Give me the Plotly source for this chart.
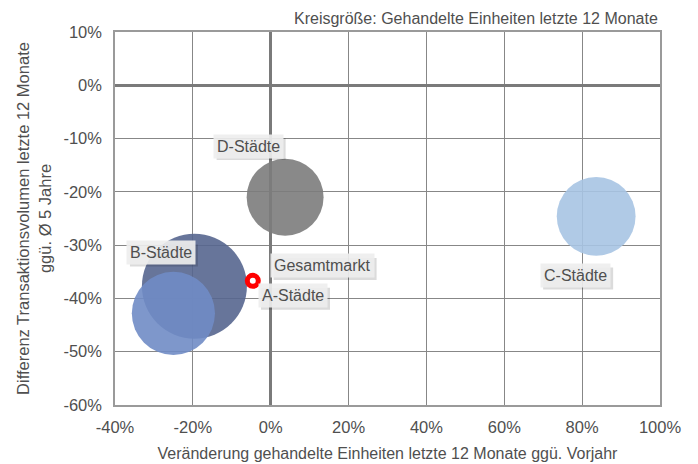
import plotly.graph_objects as go

# Data
segments = ["D-Städte", "C-Städte", "B-Städte", "A-Städte"]
change_units = [3.7, 83.6, -19.6, -25.0]          # % x
diff_volume = [-21.0, -24.6, -37.7, -42.8]        # % y
units_traded = [5.9, 6.2, 11.0, 6.9]              # bubble size (relative)
colors = ["#7c7c7c", "#a7c4e3", "#56668f", "#708cc5"]

total_name = "Gesamtmarkt"
total_x = [-4.6]
total_y = [-36.7]

label_text = ["D-Städte", "C-Städte", "B-Städte", "A-Städte", "Gesamtmarkt"]
label_x = [-5.8, 78.2, -28.2, 5.6, 13.2]
label_y = [-11.4, -35.7, -31.4, -39.5, -33.9]

x_ticks = [-40, -20, 0, 20, 40, 60, 80, 100]
y_ticks = [10, 0, -10, -20, -30, -40, -50, -60]

FONT = "Liberation Sans, Arial, sans-serif"
TXT = "#4f4f4f"

max_d = 105.0
sizeref = 2.0 * max(units_traded) / max_d ** 2

fig = go.Figure()
for name, x, y, s, c in zip(segments, change_units, diff_volume, units_traded, colors):
    fig.add_trace(go.Scatter(
        x=[x], y=[y], mode="markers", name=name,
        marker=dict(size=[s], sizemode="area", sizeref=sizeref, color=c,
                    opacity=0.9, line=dict(width=0)),
        showlegend=False,
    ))

fig.add_trace(go.Scatter(
    x=total_x, y=total_y, mode="markers", name=total_name,
    marker=dict(size=11, color="white", line=dict(color="#ff0000", width=5)),
    showlegend=False,
))

# label boxes with a soft drop shadow (shadow = pixel-sized rect anchored at the label)
box_w = [69, 70, 68, 69, 103]
box_h = 22
for t, x, y, w in zip(label_text, label_x, label_y, box_w):
    fig.add_shape(type="rect", xref="x", yref="y", xsizemode="pixel", ysizemode="pixel",
                  xanchor=x, yanchor=y,
                  x0=-w / 2 + 3, x1=w / 2 + 3, y0=-box_h / 2 - 3, y1=box_h / 2 - 3,
                  fillcolor="rgba(0,0,0,0.14)", line=dict(width=0), layer="above")
    fig.add_annotation(x=x, y=y, text=t, showarrow=False,
                       font=dict(family=FONT, size=16, color=TXT),
                       bgcolor="rgba(238,238,238,0.92)", borderpad=3)

fig.add_annotation(xref="paper", yref="paper", x=1, y=1, yshift=3,
                   xanchor="right", yanchor="bottom", showarrow=False,
                   text="Kreisgröße: Gehandelte Einheiten letzte 12 Monate",
                   font=dict(family=FONT, size=16, color=TXT))

# the page body adds an 8px offset; figure is sized to compensate
fig.update_layout(
    width=690, height=456,
    margin=dict(l=107, r=38, t=24, b=59, autoexpand=False),
    paper_bgcolor="white", plot_bgcolor="white",
    font=dict(family=FONT, size=16, color=TXT),
    xaxis=dict(
        range=[-40, 100], tickvals=x_ticks,
        ticktext=[f"{v}%" for v in x_ticks],
        tickfont=dict(size=16.5),
        showgrid=True, gridcolor="#878787", gridwidth=1,
        zeroline=True, zerolinecolor="#7a7a7a", zerolinewidth=2.5,
        showline=True, linecolor="#9a9a9a", linewidth=1.5, mirror=True,
        ticks="", ticklabelstandoff=6, automargin=False,
        title=dict(text="Veränderung gehandelte Einheiten letzte 12 Monate ggü. Vorjahr",
                   font=dict(family=FONT, size=16, color=TXT), standoff=13),
        fixedrange=True,
    ),
    yaxis=dict(
        range=[-60, 10], tickvals=y_ticks,
        ticktext=[f"{v}%" for v in y_ticks],
        tickfont=dict(size=16.5),
        showgrid=True, gridcolor="#878787", gridwidth=1,
        zeroline=True, zerolinecolor="#7a7a7a", zerolinewidth=2.5,
        showline=True, linecolor="#9a9a9a", linewidth=1.5, mirror=True,
        ticks="", ticklabelstandoff=8, automargin=False,
        title=dict(text="Differenz Transaktionsvolumen letzte 12 Monate<br>ggü. Ø 5 Jahre",
                   font=dict(family=FONT, size=16.5, color=TXT), standoff=8),
        fixedrange=True,
    ),
)

fig.write_html("out.html")
